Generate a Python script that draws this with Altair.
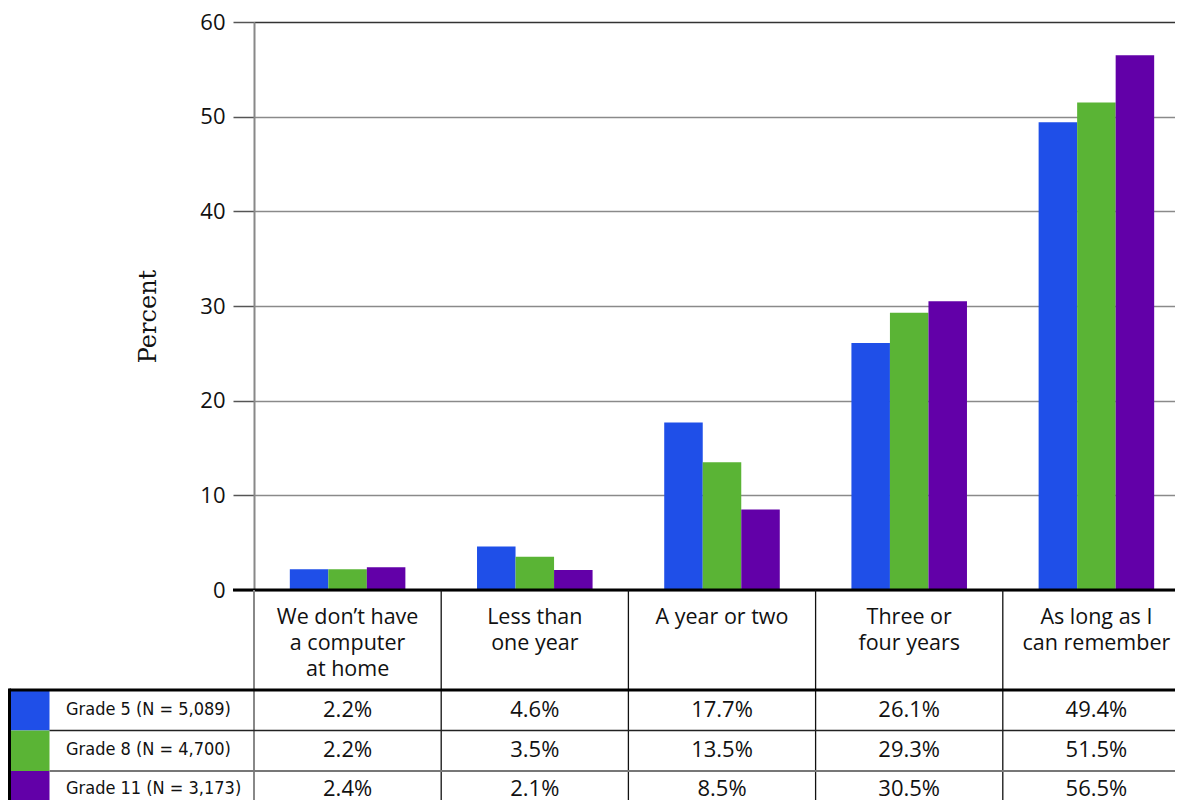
import altair as alt
import pandas as pd

categories = ["We don’t have\na computer\nat home", "Less than\none year", "A year or two",
              "Three or\nfour years", "As long as I\ncan remember"]
grades = ["Grade 5 (N = 5,089)", "Grade 8 (N = 4,700)", "Grade 11 (N = 3,173)"]
grade5 = [2.2, 4.6, 17.7, 26.1, 49.4]
grade8 = [2.2, 3.5, 13.5, 29.3, 51.5]
grade11 = [2.4, 2.1, 8.5, 30.5, 56.5]
colors = ["#1f4fe8", "#5ab435", "#6200a8"]
y_ticks = [0, 10, 20, 30, 40, 50, 60]

rows = []
for g, vals in zip(grades, [grade5, grade8, grade11]):
    for c, v in zip(categories, vals):
        rows.append({"cat": c, "grade": g, "pct": v})
df = pd.DataFrame(rows)
cat_df = pd.DataFrame({"cat": categories})

W = 921          # visible plot width (right part is cropped like the reference)
FULL_W = 936     # width of the five category columns
H = 568
TABLE_TOP = 668
ROW_H = 40.5
ROW_TEXT = [687.5, 727.5, 766.5]
BOTTOM = 790
LEFT = -244.5

x_scale = alt.Scale(domain=categories, paddingInner=0, paddingOuter=0, range=[0, FULL_W])
color_enc = alt.Color("grade:N", scale=alt.Scale(domain=grades, range=colors), legend=None)

bars = alt.Chart(df).mark_bar().encode(
    x=alt.X("cat:N", scale=x_scale, axis=None),
    xOffset=alt.XOffset("grade:N", scale=alt.Scale(domain=grades, paddingInner=0, paddingOuter=0.93)),
    y=alt.Y("pct:Q", scale=alt.Scale(domain=[0, 60], nice=False),
            axis=alt.Axis(values=y_ticks, grid=True,
                          gridColor=alt.condition("datum.value === 60", alt.value("#333333"), alt.value("#8a8a8a")),
                          gridWidth=1.5, tickSize=21, tickColor="#555555", tickWidth=1.5,
                          domainColor="#888888", domainWidth=2,
                          labelFont="Open Sans", labelFontSize=22, labelColor="#111111", labelPadding=8,
                          title="Percent", titleFont="DejaVu Serif", titleFontSize=24,
                          titleFontWeight="normal", titleColor="#111111", titlePadding=39,
                          titleY=294)),
    color=color_enc,
)

baseline = alt.Chart(pd.DataFrame({"v": [0]})).mark_rule(color="black", strokeWidth=3).encode(
    y=alt.Y(datum=0), x=alt.value(-21), x2=alt.value(FULL_W)
)

table_top = alt.Chart(pd.DataFrame({"v": [0]})).mark_rule(color="black", strokeWidth=3).encode(
    y=alt.value(TABLE_TOP), x=alt.value(LEFT), x2=alt.value(FULL_W)
)
sep1 = alt.Chart(pd.DataFrame({"v": [0]})).mark_rule(color="#222222", strokeWidth=1.3).encode(
    y=alt.value(TABLE_TOP + ROW_H), x=alt.value(LEFT + 40), x2=alt.value(FULL_W)
)
sep2 = alt.Chart(pd.DataFrame({"v": [0]})).mark_rule(color="#777777", strokeWidth=2).encode(
    y=alt.value(TABLE_TOP + 2 * ROW_H), x=alt.value(LEFT + 40), x2=alt.value(FULL_W)
)

col_first = alt.Chart(pd.DataFrame({"cat": categories[:1]})).mark_rule(color="#888888", strokeWidth=2).encode(
    x=alt.X("cat:N", bandPosition=0), y=alt.value(H), y2=alt.value(BOTTOM)
)
col_seps = alt.Chart(pd.DataFrame({"cat": categories[1:]})).mark_rule(color="#111111", strokeWidth=1.3).encode(
    x=alt.X("cat:N", bandPosition=0), y=alt.value(H), y2=alt.value(BOTTOM)
)
left_border = alt.Chart(pd.DataFrame({"v": [0]})).mark_rule(color="black", strokeWidth=3).encode(
    x=alt.value(LEFT), y=alt.value(TABLE_TOP - 1.5), y2=alt.value(BOTTOM)
)

headers = alt.Chart(cat_df).mark_text(
    lineBreak="\n", baseline="alphabetic", align="center", font="Open Sans",
    fontSize=21.5, lineHeight=26, color="#111111"
).encode(x=alt.X("cat:N"), y=alt.value(602), text="cat:N")

layers = [bars, baseline, col_first, col_seps, headers]
for i, g in enumerate(grades):
    sub = df[df["grade"] == g]
    y_top = TABLE_TOP + i * ROW_H
    swatch = alt.Chart(pd.DataFrame({"grade": [g]})).mark_rect().encode(
        x=alt.value(LEFT), x2=alt.value(LEFT + 40),
        y=alt.value(y_top), y2=alt.value(min(y_top + ROW_H, BOTTOM)),
        color=color_enc,
    )
    label = alt.Chart(pd.DataFrame({"grade": [g]})).mark_text(
        align="left", baseline="middle", font="DejaVu Sans Condensed, Liberation Sans Narrow, sans-serif",
        fontSize=18, color="#111111"
    ).encode(x=alt.value(-188), y=alt.value(ROW_TEXT[i]), text="grade:N")
    vals = alt.Chart(sub).transform_calculate(
        lbl="format(datum.pct, '.1f') + '%'"
    ).mark_text(
        align="center", baseline="middle", font="Open Sans", fontSize=22, color="#111111"
    ).encode(x=alt.X("cat:N"), y=alt.value(ROW_TEXT[i]), text="lbl:N")
    layers += [swatch, label, vals]

layers += [table_top, sep1, sep2, left_border]

chart = alt.layer(*layers).properties(
    width=W, height=H,
    autosize=alt.AutoSizeParams(type="none"),
    padding={"left": 246, "top": 14, "right": 0, "bottom": 210},
).configure_view(stroke=None).configure(background="white")

chart.save("out.html", embed_options={"renderer": "svg", "actions": False})
